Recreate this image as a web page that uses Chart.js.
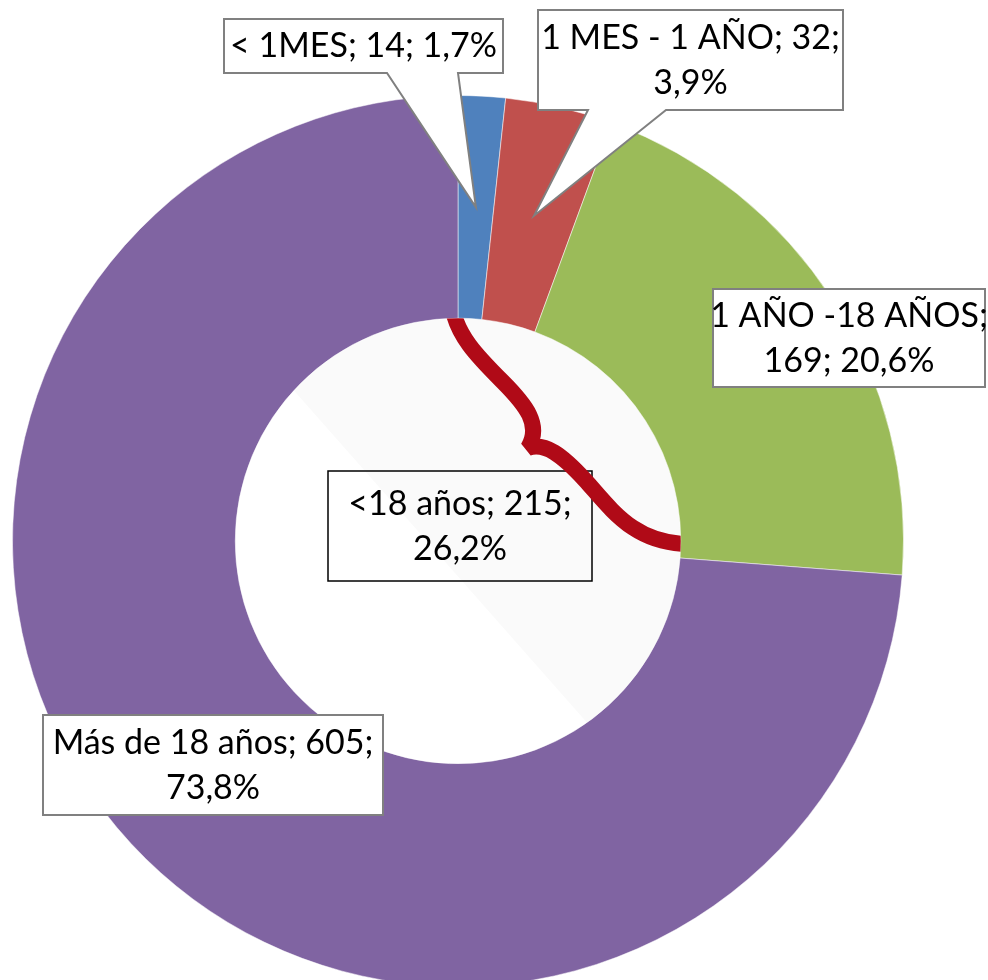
<!DOCTYPE html>
<html>
<head>
<meta charset="utf-8">
<script src="https://cdn.jsdelivr.net/npm/chart.js@4/dist/chart.umd.min.js"></script>
<style>
  html, body { margin: 0; padding: 0; background: #fff; overflow: hidden; }
  canvas { display: block; }
</style>
</head>
<body>
<canvas id="chart" width="988" height="1000"></canvas>
<script>
// --- DATA ---
const categories = ['< 1MES', '1 MES - 1 AÑO', '1 AÑO -18 AÑOS', 'Más de 18 años'];
const counts = [14, 32, 169, 605];
const colors = ['#4f81bd', '#c0504d', '#9bbb59', '#8064a2'];
const groupName = '<18 años';
const groupMembers = [0, 1, 2];

const total = counts.reduce((a, b) => a + b, 0);
const pct = v => (v / total * 100).toFixed(1).replace('.', ',') + '%';
const groupCount = groupMembers.reduce((s, i) => s + counts[i], 0);

// --- LABEL LAYOUT ---
// split: 0 = one line, 1 = "cat;" / "val; pct", 2 = "cat; val;" / "pct"
const boxes = [
  { x: 224, y: 19, w: 279, h: 54, base: [387, 458], split: 0 },
  { x: 538, y: 10, w: 305, h: 100, base: [588, 666], split: 2 },
  { x: 713, y: 289, w: 272, h: 98, split: 1 },
  { x: 43, y: 715, w: 340, h: 100, split: 2 }
];
const centerBox = { x: 328, y: 471, w: 264, h: 110 };
const FONT = '34px Lato, "Open Sans", sans-serif';

function linesFor(name, val, split) {
  if (split === 0) return [`${name}; ${val}; ${pct(val)}`];
  if (split === 1) return [`${name};`, `${val}; ${pct(val)}`];
  return [`${name}; ${val};`, pct(val)];
}

function drawLines(ctx, lines, cx, cy) {
  ctx.fillStyle = '#000';
  ctx.font = FONT;
  ctx.textAlign = 'center';
  ctx.textBaseline = 'alphabetic';
  if (lines.length === 1) {
    ctx.fillText(lines[0], cx, cy + 11);
  } else {
    ctx.fillText(lines[0], cx, cy - 11);
    ctx.fillText(lines[1], cx, cy + 34);
  }
}

const overlay = {
  id: 'overlay',
  beforeDatasetsDraw(chart) {
    const ctx = chart.ctx;
    const a = chart.getDatasetMeta(0).data[0];
    const { x, y, innerRadius } = a.getProps(['x', 'y', 'innerRadius'], true);
    ctx.save();
    ctx.beginPath();
    ctx.arc(x, y, innerRadius, 0, Math.PI * 2);
    ctx.clip();
    ctx.fillStyle = '#ffffff';
    ctx.fillRect(x - innerRadius, y - innerRadius, innerRadius * 2, innerRadius * 2);
    // faint shaded half of the hole
    ctx.fillStyle = '#fafafa';
    ctx.beginPath();
    ctx.moveTo(x - 138 - 300, y - 121 - 340);
    ctx.lineTo(x - 138 + 600, y - 121 + 680);
    ctx.lineTo(x + 600, y - 600);
    ctx.closePath();
    ctx.fill();
    ctx.restore();
  },
  afterDatasetsDraw(chart) {
    const ctx = chart.ctx;
    const a = chart.getDatasetMeta(0).data[0];
    const { x, y, innerRadius } = a.getProps(['x', 'y', 'innerRadius'], true);

    // center group label (no fill)
    ctx.save();
    ctx.strokeStyle = '#000';
    ctx.lineWidth = 1.5;
    ctx.strokeRect(centerBox.x, centerBox.y, centerBox.w, centerBox.h);
    drawLines(ctx, [`${groupName}; ${groupCount};`, pct(groupCount)],
      centerBox.x + centerBox.w / 2, centerBox.y + centerBox.h / 2);
    ctx.restore();

    // curly brace over the grouped slices, clipped to the hole
    ctx.save();
    ctx.beginPath();
    ctx.arc(x, y, innerRadius, 0, Math.PI * 2);
    ctx.clip();
    ctx.translate(x - 458, y - 541);
    ctx.strokeStyle = '#b00a17';
    ctx.lineWidth = 16;
    ctx.lineJoin = 'miter';
    ctx.miterLimit = 2.5;
    ctx.beginPath();
    ctx.moveTo(452, 305);
    ctx.bezierCurveTo(456, 335, 478, 357, 502, 381);
    ctx.bezierCurveTo(526, 405, 542, 425, 528, 448);
    ctx.bezierCurveTo(545, 442, 562, 455, 585, 480);
    ctx.bezierCurveTo(612, 510, 635, 545, 692, 544);
    ctx.stroke();
    ctx.restore();
  },
  afterDraw(chart) {
    const ctx = chart.ctx;
    const arcs = chart.getDatasetMeta(0).data;
    boxes.forEach((b, i) => {
      const r = b.x + b.w, btm = b.y + b.h;
      ctx.save();
      ctx.beginPath();
      ctx.moveTo(b.x, b.y);
      ctx.lineTo(r, b.y);
      ctx.lineTo(r, btm);
      if (b.base) {
        const tip = arcs[i].tooltipPosition();
        ctx.lineTo(b.base[1], btm);
        ctx.lineTo(tip.x, tip.y);
        ctx.lineTo(b.base[0], btm);
      }
      ctx.lineTo(b.x, btm);
      ctx.closePath();
      ctx.fillStyle = '#fff';
      ctx.fill();
      ctx.strokeStyle = '#808080';
      ctx.lineWidth = 2;
      ctx.stroke();
      drawLines(ctx, linesFor(categories[i], counts[i], b.split), b.x + b.w / 2, b.y + b.h / 2);
      ctx.restore();
    });
  }
};

new Chart(document.getElementById('chart'), {
  type: 'doughnut',
  data: {
    labels: categories,
    datasets: [{
      data: counts,
      backgroundColor: colors,
      borderColor: 'rgba(255,255,255,0.5)',
      borderWidth: 1
    }]
  },
  options: {
    responsive: false,
    animation: false,
    cutout: '50%',
    layout: { padding: { left: 12, right: 84, top: 95, bottom: 13 } },
    plugins: { legend: { display: false }, tooltip: { enabled: false } },
    events: []
  },
  plugins: [overlay]
});
</script>
</body>
</html>
